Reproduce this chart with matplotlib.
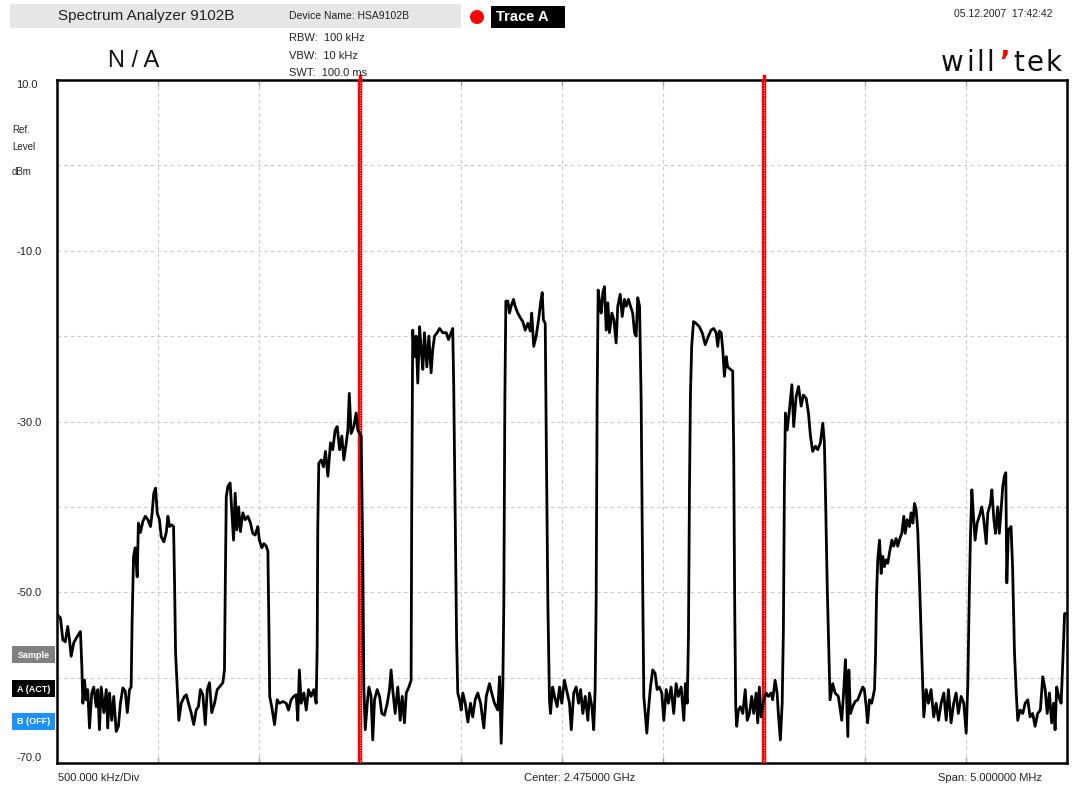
import numpy as np
import matplotlib.pyplot as plt
from matplotlib.patches import Rectangle, Ellipse

W, H = 1078, 787

# trace A (frequency in MHz, level in dBm)
freq_1 = [2472.504, 2472.517, 2472.529, 2472.541, 2472.553, 2472.562, 2472.570, 2472.583, 2472.600, 2472.616,
          2472.623, 2472.628, 2472.636, 2472.645, 2472.652, 2472.661, 2472.672, 2472.682, 2472.694, 2472.702,
          2472.710, 2472.719, 2472.732, 2472.744, 2472.751, 2472.760, 2472.771, 2472.781, 2472.793, 2472.804,
          2472.814, 2472.826, 2472.838, 2472.848, 2472.859, 2472.867, 2472.872, 2472.879, 2472.887, 2472.897,
          2472.903, 2472.913, 2472.925, 2472.937, 2472.950, 2472.963, 2472.971, 2472.979, 2472.988, 2472.996,
          2473.007, 2473.016, 2473.029, 2473.041, 2473.049, 2473.057, 2473.068, 2473.077, 2473.082, 2473.087,
          2473.095, 2473.103, 2473.115, 2473.131]
level_1 = [-52.7, -53.0, -55.6, -55.8, -54.0, -55.6, -57.5, -55.9, -55.2, -54.6,
           -58.7, -63.0, -60.3, -62.6, -61.4, -65.9, -61.8, -61.1, -63.4, -61.4,
           -66.1, -61.1, -64.1, -61.4, -65.9, -61.8, -65.0, -62.2, -66.3, -65.7,
           -63.0, -61.2, -61.6, -64.1, -61.4, -61.1, -53.2, -45.8, -44.8, -48.2,
           -41.9, -43.0, -41.7, -41.1, -41.5, -42.3, -40.7, -38.4, -37.8, -40.7,
           -41.5, -43.5, -44.1, -43.0, -41.1, -42.3, -42.1, -42.3, -48.9, -57.1,
           -61.1, -65.0, -63.0, -62.2]

freq_2 = [2473.140, 2473.151, 2473.164, 2473.177, 2473.189, 2473.200, 2473.210, 2473.222, 2473.234, 2473.244,
          2473.255, 2473.266, 2473.280, 2473.293, 2473.304, 2473.321, 2473.329, 2473.333, 2473.338, 2473.346,
          2473.357, 2473.365, 2473.374, 2473.382, 2473.390, 2473.399, 2473.408, 2473.420, 2473.432, 2473.445,
          2473.458, 2473.469, 2473.481, 2473.494, 2473.502, 2473.514, 2473.524, 2473.536, 2473.544, 2473.549,
          2473.553, 2473.563, 2473.577, 2473.590, 2473.601, 2473.618, 2473.635, 2473.646, 2473.659, 2473.672,
          2473.684, 2473.692, 2473.700, 2473.709, 2473.722, 2473.734, 2473.745, 2473.758, 2473.771]
level_2 = [-62.0, -63.0, -64.1, -65.5, -63.8, -63.4, -61.4, -62.0, -65.5, -61.4,
           -60.6, -64.1, -63.0, -61.4, -61.1, -60.6, -59.1, -49.3, -38.8, -37.6,
           -37.2, -40.3, -43.9, -38.4, -42.7, -40.0, -42.9, -40.7, -41.5, -41.1,
           -41.9, -43.1, -43.3, -42.3, -43.9, -44.8, -44.3, -44.6, -45.2, -54.0,
           -62.2, -63.4, -65.5, -62.6, -63.0, -62.8, -63.0, -63.8, -62.6, -62.2,
           -62.0, -65.0, -59.1, -63.0, -61.8, -63.8, -61.4, -62.2, -61.4]

freq_3 = [2473.783, 2473.788, 2473.791, 2473.796, 2473.808, 2473.819, 2473.829, 2473.841, 2473.854, 2473.865,
          2473.877, 2473.887, 2473.899, 2473.910, 2473.920, 2473.932, 2473.940, 2473.947, 2473.956, 2473.969,
          2473.981, 2473.989, 2474.006, 2474.014, 2474.019, 2474.026, 2474.036, 2474.044, 2474.055, 2474.063,
          2474.072, 2474.085, 2474.097, 2474.108, 2474.121, 2474.135, 2474.146, 2474.154, 2474.162, 2474.174,
          2474.187, 2474.199, 2474.209, 2474.220, 2474.229, 2474.242, 2474.253, 2474.256, 2474.261, 2474.270,
          2474.278, 2474.286, 2474.295, 2474.303, 2474.311, 2474.319, 2474.331, 2474.341, 2474.352, 2474.360,
          2474.369, 2474.382, 2474.394, 2474.410]
level_3 = [-63.0, -56.4, -42.3, -34.9, -34.5, -35.3, -33.5, -36.4, -32.5, -33.3,
           -31.0, -30.6, -33.3, -31.7, -34.5, -32.5, -31.0, -26.7, -31.4, -30.6,
           -29.0, -31.0, -31.7, -46.6, -61.1, -66.1, -63.0, -61.1, -62.2, -67.3,
           -62.6, -61.4, -62.2, -64.2, -64.4, -63.0, -61.4, -59.1, -61.4, -64.2,
           -61.1, -65.0, -62.2, -65.3, -61.8, -61.1, -60.3, -40.3, -19.3, -22.4,
           -20.0, -25.5, -18.9, -21.6, -23.9, -19.6, -23.6, -20.0, -24.3, -21.6,
           -20.0, -19.6, -19.1, -19.6]

freq_4 = [2474.427, 2474.438, 2474.451, 2474.459, 2474.464, 2474.471, 2474.478, 2474.484, 2474.493, 2474.501,
          2474.509, 2474.521, 2474.534, 2474.547, 2474.558, 2474.570, 2474.583, 2474.597, 2474.613, 2474.625,
          2474.641, 2474.652, 2474.666, 2474.682, 2474.691, 2474.699, 2474.707, 2474.712, 2474.717, 2474.722,
          2474.732, 2474.740, 2474.748, 2474.760, 2474.768, 2474.781, 2474.795, 2474.806, 2474.818, 2474.831,
          2474.843, 2474.850, 2474.860, 2474.872, 2474.884, 2474.894, 2474.902, 2474.908, 2474.917, 2474.922,
          2474.930, 2474.938, 2474.943, 2474.954, 2474.963, 2474.976, 2474.988, 2474.999, 2475.012, 2475.026,
          2475.037, 2475.046, 2475.058]
level_4 = [-19.6, -20.4, -19.6, -19.1, -25.9, -40.3, -55.2, -61.8, -62.6, -63.8,
           -61.8, -63.0, -65.2, -63.0, -64.6, -62.6, -61.8, -63.0, -65.9, -62.2,
           -60.7, -61.8, -63.0, -63.8, -59.9, -67.7, -61.1, -51.3, -27.8, -15.9,
           -15.9, -17.3, -16.5, -15.7, -16.5, -17.3, -17.9, -18.3, -19.3, -18.5,
           -19.4, -17.3, -21.2, -20.0, -18.1, -16.1, -14.9, -18.1, -18.5, -31.7,
           -51.3, -62.6, -64.2, -61.1, -62.2, -63.4, -61.1, -63.0, -60.3, -61.8,
           -63.0, -66.1, -61.8]

freq_5 = [2475.070, 2475.082, 2475.092, 2475.103, 2475.115, 2475.128, 2475.136, 2475.148, 2475.157, 2475.164,
          2475.169, 2475.174, 2475.179, 2475.186, 2475.194, 2475.202, 2475.210, 2475.219, 2475.227, 2475.235,
          2475.247, 2475.257, 2475.268, 2475.276, 2475.288, 2475.298, 2475.309, 2475.318, 2475.329, 2475.339,
          2475.350, 2475.359, 2475.367, 2475.375, 2475.384, 2475.392, 2475.400, 2475.405, 2475.412, 2475.420,
          2475.428, 2475.438, 2475.449, 2475.461, 2475.471, 2475.482, 2475.494, 2475.504, 2475.516, 2475.527,
          2475.540, 2475.553, 2475.565, 2475.576, 2475.590, 2475.603, 2475.611, 2475.620, 2475.626, 2475.631,
          2475.636, 2475.642, 2475.651, 2475.664, 2475.680, 2475.694, 2475.709]
level_5 = [-61.1, -63.0, -61.4, -64.2, -62.2, -65.0, -61.8, -63.4, -66.1, -61.4,
           -51.3, -27.1, -14.6, -16.1, -17.3, -14.9, -14.2, -19.3, -16.1, -19.6,
           -17.3, -18.1, -20.8, -16.5, -15.1, -17.7, -15.7, -16.5, -15.7, -16.5,
           -17.3, -19.6, -20.0, -15.5, -16.5, -27.8, -50.5, -62.2, -64.2, -66.5,
           -63.8, -61.1, -59.1, -59.5, -61.4, -61.1, -61.8, -65.0, -61.4, -63.0,
           -61.1, -64.2, -60.7, -62.2, -61.1, -65.0, -60.7, -63.0, -55.2, -38.0,
           -26.7, -21.2, -18.3, -18.5, -18.9, -19.6, -21.0]

freq_6 = [2475.725, 2475.738, 2475.751, 2475.763, 2475.771, 2475.779, 2475.788, 2475.796, 2475.804, 2475.813,
          2475.820, 2475.834, 2475.845, 2475.850, 2475.855, 2475.860, 2475.865, 2475.873, 2475.883, 2475.895,
          2475.907, 2475.917, 2475.928, 2475.939, 2475.949, 2475.961, 2475.969, 2475.977, 2475.986, 2475.999,
          2476.011, 2476.022, 2476.035, 2476.043, 2476.055, 2476.065, 2476.071, 2476.081, 2476.090, 2476.096,
          2476.101, 2476.106, 2476.115, 2476.126, 2476.138, 2476.147, 2476.159, 2476.171, 2476.184, 2476.195,
          2476.209, 2476.220, 2476.230, 2476.241, 2476.255, 2476.266, 2476.279, 2476.291, 2476.299, 2476.304,
          2476.313, 2476.321, 2476.327, 2476.340, 2476.352]
level_6 = [-20.0, -19.3, -19.1, -19.6, -21.2, -19.4, -19.6, -21.6, -24.7, -22.4,
           -23.6, -23.9, -24.1, -33.3, -51.7, -63.4, -65.7, -63.8, -63.4, -64.2,
           -61.4, -65.0, -64.2, -62.2, -64.2, -61.8, -65.3, -61.1, -64.6, -62.6,
           -61.8, -62.2, -61.8, -62.6, -60.3, -61.8, -64.2, -67.3, -63.0, -54.4,
           -37.6, -29.0, -31.0, -28.6, -25.7, -30.6, -27.1, -25.9, -28.2, -26.9,
           -27.3, -29.0, -31.7, -33.5, -32.9, -33.3, -32.5, -30.2, -32.5, -38.0,
           -49.3, -57.1, -62.6, -60.7, -61.8]

freq_7 = [2476.368, 2476.378, 2476.385, 2476.395, 2476.403, 2476.410, 2476.415, 2476.420, 2476.428, 2476.439,
          2476.451, 2476.464, 2476.477, 2476.489, 2476.497, 2476.506, 2476.513, 2476.522, 2476.533, 2476.547,
          2476.552, 2476.557, 2476.563, 2476.572, 2476.580, 2476.588, 2476.596, 2476.605, 2476.613, 2476.621,
          2476.633, 2476.642, 2476.654, 2476.662, 2476.670, 2476.682, 2476.692, 2476.699, 2476.709, 2476.720,
          2476.728, 2476.737, 2476.745, 2476.753, 2476.761, 2476.770, 2476.778, 2476.785, 2476.791, 2476.803,
          2476.814, 2476.827, 2476.840, 2476.852, 2476.864, 2476.877, 2476.890, 2476.902, 2476.913, 2476.926,
          2476.939, 2476.951, 2476.962, 2476.976, 2476.989, 2477.001, 2477.009, 2477.016]
level_7 = [-62.2, -63.8, -65.0, -61.4, -57.9, -63.0, -66.9, -59.1, -64.2, -63.4,
           -62.8, -62.6, -61.8, -61.1, -61.4, -63.4, -65.3, -62.6, -63.0, -61.4,
           -57.5, -50.5, -46.2, -43.9, -47.8, -45.8, -47.0, -46.2, -46.6, -45.4,
           -43.9, -44.6, -43.7, -44.6, -43.9, -43.1, -41.1, -43.1, -41.5, -42.3,
           -40.7, -41.9, -39.6, -40.3, -42.7, -48.9, -55.2, -60.3, -64.6, -61.4,
           -63.0, -61.4, -64.6, -63.0, -65.0, -63.0, -61.8, -65.0, -61.4, -65.3,
           -63.0, -61.8, -64.2, -62.2, -63.0, -66.5, -60.7, -50.5]

freq_8 = [2477.022, 2477.029, 2477.037, 2477.045, 2477.055, 2477.066, 2477.078, 2477.088, 2477.100, 2477.108,
          2477.121, 2477.128, 2477.138, 2477.146, 2477.157, 2477.165, 2477.174, 2477.182, 2477.190, 2477.197,
          2477.202, 2477.210, 2477.223, 2477.231, 2477.240, 2477.248, 2477.256, 2477.268, 2477.281, 2477.293,
          2477.306, 2477.317, 2477.330, 2477.342, 2477.355, 2477.368, 2477.380, 2477.392, 2477.402, 2477.413,
          2477.424, 2477.434, 2477.441, 2477.449, 2477.459, 2477.471, 2477.479, 2477.488, 2477.496]
level_8 = [-43.5, -38.0, -41.1, -43.9, -41.9, -41.1, -40.0, -41.5, -44.3, -40.7,
           -39.6, -38.0, -41.5, -43.1, -40.0, -43.1, -40.3, -37.6, -36.4, -36.0,
           -48.9, -42.7, -42.3, -47.4, -57.1, -61.4, -65.0, -63.8, -64.2, -63.0,
           -62.6, -64.6, -64.2, -65.7, -64.2, -63.8, -59.9, -61.4, -64.2, -61.8,
           -65.3, -63.0, -66.1, -61.1, -62.2, -63.0, -58.3, -52.5, -52.5]

marker_freqs = [2474.0, 2476.0]
f_start, f_stop, f_div = 2472.5, 2477.5, 0.5
ref_level, bottom_level, db_div = 10.0, -70.0, 10.0
ylabels = ['10.0', '', '-10.0', '', '-30.0', '', '-50.0', '', '-70.0']

freq = np.concatenate([freq_1, freq_2, freq_3, freq_4, freq_5, freq_6, freq_7, freq_8])
level = np.concatenate([level_1, level_2, level_3, level_4, level_5, level_6, level_7, level_8])

plt.rcParams['font.family'] = ['Liberation Sans', 'DejaVu Sans']


def fx(x):
    return x / W


def fy(y):
    return 1 - y / H


fig = plt.figure(figsize=(W / 100, H / 100), dpi=100)
ax = fig.add_axes([fx(57), fy(763), 1010 / W, 683 / H])

ax.plot(freq, level, color='black', lw=2.0, zorder=5, solid_joinstyle='round')
for f in marker_freqs:
    ax.axvline(f, color='#ff0000', lw=3.2, zorder=3)
    ax.axvline(f, color='white', lw=0.6, ls=(0, (1, 2)), zorder=3.5)
    ax.plot([f, f], [ref_level, ref_level + 0.5], color='#ff0000', lw=2.5, clip_on=False, zorder=6)

ax.set_xlim(f_start, f_stop)
ax.set_ylim(bottom_level, ref_level)
ax.set_xticks(np.arange(f_start, f_stop + 0.01, f_div))
ax.set_yticks(np.arange(ref_level, bottom_level - 0.01, -db_div))
ax.set_yticklabels(ylabels)
ax.tick_params(axis='x', direction='in', length=4, width=1, color='#a8a8a8',
               top=True, labelbottom=False)
ax.tick_params(axis='y', length=0, pad=29.5, labelsize=8, labelcolor='#222222')
ylab = ax.get_yticklabels()
for lab in ylab:
    lab.set_horizontalalignment('left')
ylab[0].set_verticalalignment('top')
ylab[-1].set_verticalalignment('bottom')
ax.grid(True, color='#c8c8c8', linestyle=(0, (3, 3)), linewidth=0.8)
ax.set_axisbelow(True)
for sp in ax.spines.values():
    sp.set_linewidth(1.8)
    sp.set_color('black')

# header
fig.add_artist(Rectangle((fx(10), fy(28)), 451 / W, 24 / H, transform=fig.transFigure,
                         facecolor='#e6e6e6', edgecolor='none'))
fig.text(fx(58), fy(16), 'Spectrum Analyzer 9102B', fontsize=11, va='center', color='#222222')
fig.text(fx(289), fy(16), 'Device Name: HSA9102B', fontsize=7.5, va='center', color='#222222')
fig.add_artist(Ellipse((fx(477), fy(17)), 14 / W, 14 / H, transform=fig.transFigure,
                       facecolor='#ff0000', edgecolor='none'))
fig.add_artist(Rectangle((fx(491), fy(28)), 74 / W, 22 / H, transform=fig.transFigure,
                         facecolor='black', edgecolor='none'))
fig.text(fx(496), fy(17), 'Trace A', fontsize=10.5, fontweight='bold', color='white', va='center')
fig.text(fx(1053), fy(14), '05.12.2007  17:42:42', fontsize=7.5, ha='right', va='center', color='#222222')

for txt, y in [('RBW:  100 kHz', 38), ('VBW:  10 kHz', 56), ('SWT:  100.0 ms', 73)]:
    fig.text(fx(289), fy(y), txt, fontsize=8, va='center', color='#222222')

fig.text(fx(108), fy(61), 'N / A', fontsize=17, va='center', color='#111111')

for ch, x, col in [('w', 952, '#111111'), ('i', 970, '#111111'), ('l', 980.5, '#111111'),
                   ('l', 990.5, '#111111'), ('\u2019', 1005, '#ff0000'), ('t', 1019, '#111111'),
                   ('e', 1034.5, '#111111'), ('k', 1053.5, '#111111')]:
    fig.text(fx(x), fy(71), ch, fontsize=20, ha='center', va='baseline', color=col,
             family='DejaVu Sans', fontweight='bold' if col == '#ff0000' else 'normal')

# left side labels
for txt, y in [('Ref.', 130), ('Level', 147), ('dBm', 172)]:
    fig.text(fx(12), fy(y), txt, fontsize=7, va='center', color='#222222')

for txt, y, col in [('Sample', 655, '#808080'), ('A (ACT)', 689, 'black'), ('B (OFF)', 722, '#1e90ff')]:
    fig.add_artist(Rectangle((fx(12), fy(y + 8)), 43 / W, 17 / H, transform=fig.transFigure,
                             facecolor=col, edgecolor='none'))
    fig.text(fx(33.5), fy(y), txt, fontsize=6.5, fontweight='bold', color='white',
             ha='center', va='center')

# bottom labels
fig.text(fx(58), fy(778), '500.000 kHz/Div', fontsize=8, va='center', color='#222222')
fig.text(fx(580), fy(778), 'Center: 2.475000 GHz', fontsize=8, ha='center', va='center', color='#222222')
fig.text(fx(1042), fy(778), 'Span: 5.000000 MHz', fontsize=8, ha='right', va='center', color='#222222')

fig.savefig('out.png', dpi=100)
